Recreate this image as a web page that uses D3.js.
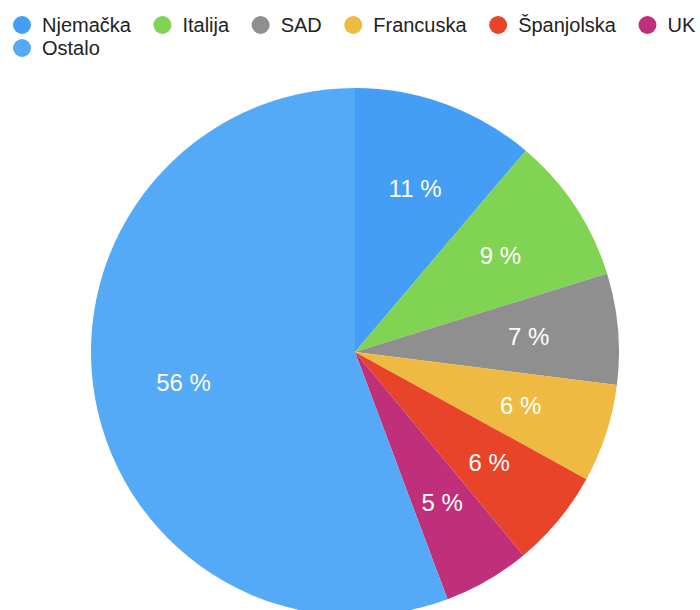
<!DOCTYPE html>
<html>
<head>
<meta charset="utf-8">
<script src="https://d3js.org/d3.v7.min.js"></script>
<style>
body { margin: 0; padding: 0; background: #fff; }
svg { display: block; font-family: "Liberation Sans", Arial, Helvetica, sans-serif; }
</style>
</head>
<body>
<svg id="chart" width="700" height="610"></svg>
<script>
// data (percent)
var countries = ['Njemačka', 'Italija', 'SAD', 'Francuska', 'Španjolska', 'UK', 'Ostalo'];
var shares = [11.2, 9.0, 6.8, 6.0, 6.0, 5.3, 55.7];
var colors = ['#449ef6', '#80d353', '#8f8f8f', '#eeba41', '#e84429', '#c0307a', '#55aaf7'];

var data = countries.map(function(c, i) { return {name: c, value: shares[i], color: colors[i]}; });

var svg = d3.select('#chart');
var cx = 355, cy = 352, radius = 264;

var pie = d3.pie().sort(null).value(function(d) { return d.value; });
var arc = d3.arc().innerRadius(0).outerRadius(radius);
var labelArc = d3.arc().innerRadius(radius * 0.66).outerRadius(radius * 0.66);

var g = svg.append('g').attr('transform', 'translate(' + cx + ',' + cy + ')');

g.selectAll('path')
  .data(pie(data))
  .enter()
  .append('path')
  .attr('d', arc)
  .attr('fill', function(d) { return d.data.color; });

g.selectAll('text')
  .data(pie(data))
  .enter()
  .append('text')
  .attr('transform', function(d) { return 'translate(' + labelArc.centroid(d) + ')'; })
  .attr('text-anchor', 'middle')
  .attr('dy', '0.35em')
  .attr('fill', '#fff')
  .style('font-size', '24px')
  .text(function(d) { return Math.round(d.data.value) + ' %'; });

// legend, wraps to a second row
var leg = svg.append('g');
var x = 22, y = 25;
data.forEach(function(d) {
  var item = leg.append('g');
  item.append('circle').attr('r', 9).attr('fill', d.color);
  var t = item.append('text')
    .attr('x', 20)
    .attr('dy', '0.35em')
    .attr('fill', '#222')
    .style('font-size', '20px')
    .text(d.name);
  var w = t.node().getComputedTextLength();
  if (x + 20 + w > 700) { x = 22; y += 23; }
  item.attr('transform', 'translate(' + x + ',' + y + ')');
  x += 20 + w + 31.5;
});
</script>
</body>
</html>
